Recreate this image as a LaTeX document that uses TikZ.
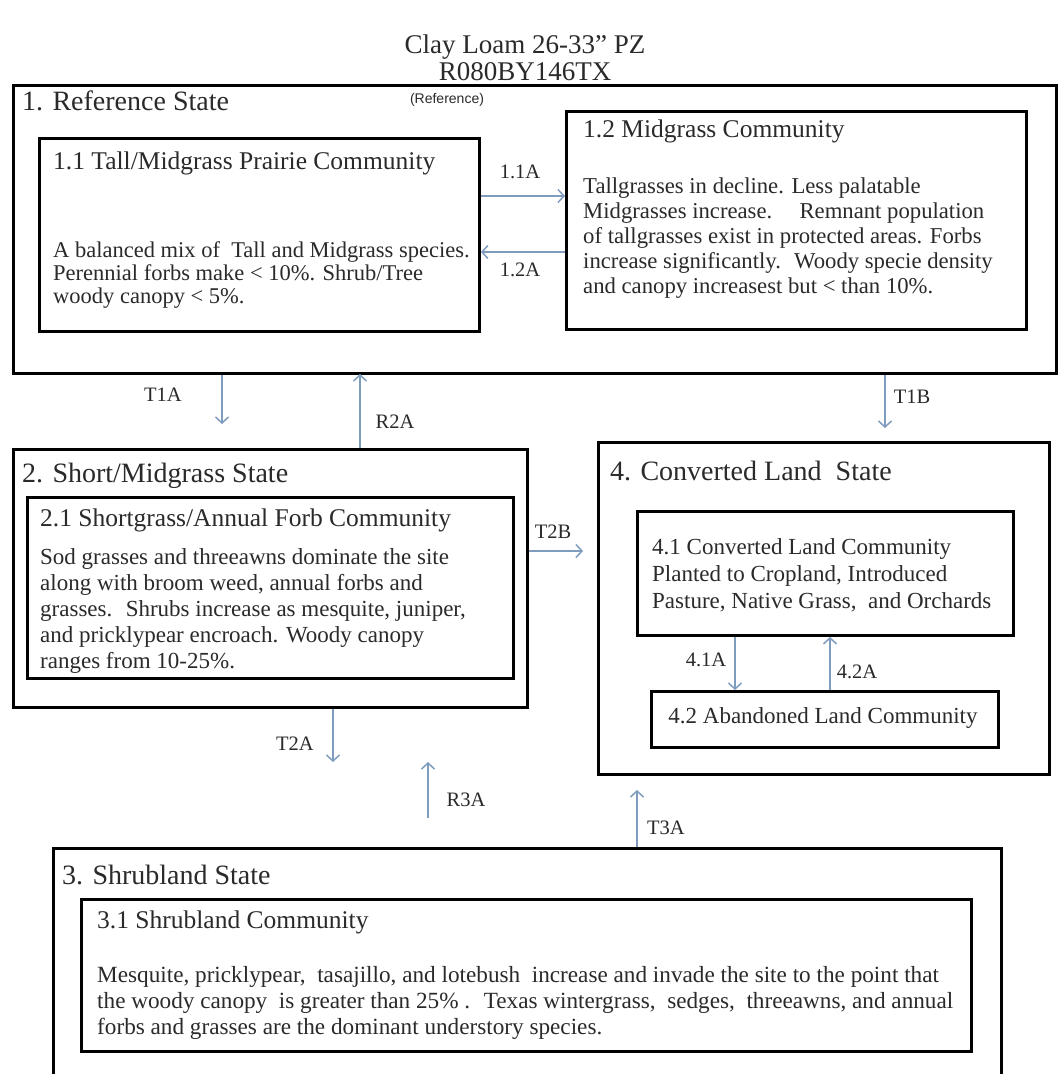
\documentclass[tikz,border=0pt]{standalone}
\usepackage{fontspec}
\setmainfont{Liberation Serif}
\newfontfamily\refsans{Liberation Sans}
\usetikzlibrary{arrows.meta}
\definecolor{arrowblue}{HTML}{7F9CBF}
\definecolor{inkgray}{HTML}{2A2A2A}
\begin{document}
\begin{tikzpicture}[x=1pt,y=-1pt,
  statebox/.style={draw=black, line width=3.4pt, inner sep=0pt, anchor=north west},
  commbox/.style={draw=black, line width=2.9pt, inner sep=0pt, anchor=north west},
  statetitle/.style={anchor=west, inner sep=0pt, text=inkgray, font=\fontsize{28}{30}\selectfont, text height=19pt, text depth=5pt},
  commtitle/.style={anchor=west, inner sep=0pt, text=inkgray, font=\fontsize{25.5}{28}\selectfont, text height=17pt, text depth=5pt},
  bodytext/.style={anchor=north west, inner sep=0pt, align=left, text=inkgray},
  arr/.style={draw=arrowblue, line width=1.5pt, -{Straight Barb[length=6pt,width=13pt]}},
  lbl/.style={inner sep=0pt, text=inkgray, font=\fontsize{20.5}{22}\selectfont},
]
\useasboundingbox (0,0) rectangle (1058,1074);
\clip (0,0) rectangle (1058,1074);
\fill[white] (0,0) rectangle (1058,1074);

% title
\node[anchor=north, inner sep=0pt, align=center, text=inkgray, font=\fontsize{27}{27}\selectfont] (title) at (525,35) {Clay Loam 26-33” PZ\\R080BY146TX};

% State 1
\node[statebox, minimum width=1043pt, minimum height=288pt] (s1) at (12,84) {};
\node[statetitle] (s1t) at (22,103) {1. Reference State};
\node[inner sep=0pt, font=\refsans\fontsize{14}{16}\selectfont, text=inkgray] (s1r) at (447,100) {(Reference)};
\node[commbox, minimum width=440pt, minimum height=193pt] (c11) at (38,137) {};
\node[commtitle] (c11t) at (53,163) {1.1 Tall/Midgrass Prairie Community};
\node[bodytext, font=\fontsize{22.5}{23}\selectfont] (c11b) at (53,241) {A balanced mix of \ Tall and Midgrass species.\\Perennial forbs make < 10\%. Shrub/Tree\\woody canopy < 5\%.};
\node[commbox, minimum width=460pt, minimum height=218pt] (c12) at (565,110) {};
\node[commtitle] (c12t) at (583,131) {1.2 Midgrass Community};
\node[bodytext, font=\fontsize{22.7}{25}\selectfont] (c12b) at (583,178) {Tallgrasses in decline. Less palatable\\Midgrasses increase.\hspace{1.2em}Remnant population\\of tallgrasses exist in protected areas. Forbs\\increase significantly. \ Woody specie density\\and canopy increasest but < than 10\%.};

\coordinate (y11) at (0,196);
\coordinate (y12) at (0,252);
\draw[arr] (c11.east |- y11) -- (c12.west |- y11);
\draw[arr] (c12.west |- y12) -- (c11.east |- y12);
\node[lbl] (l11) at (520,172) {1.1A};
\node[lbl] (l12) at (520,270) {1.2A};

% State 2
\node[statebox, minimum width=514pt, minimum height=258pt] (s2) at (12,448) {};
\node[statetitle] (s2t) at (22,475) {2. Short/Midgrass State};
\node[commbox, minimum width=486pt, minimum height=181pt] (c21) at (26,496) {};
\node[commtitle] (c21t) at (40,520) {2.1 Shortgrass/Annual Forb Community};
\node[bodytext, font=\fontsize{23}{26}\selectfont] (c21b) at (40,548) {Sod grasses and threeawns dominate the site\\along with broom weed, annual forbs and\\grasses. \ Shrubs increase as mesquite, juniper,\\and pricklypear encroach. Woody canopy\\ranges from 10-25\%.};

% State 4
\node[statebox, minimum width=451pt, minimum height=332pt] (s4) at (597,441) {};
\node[statetitle] (s4t) at (610,473) {4. Converted Land \ State};
\node[commbox, minimum width=376pt, minimum height=124pt] (c41) at (636,510) {};
\node[bodytext, font=\fontsize{23}{27}\selectfont] (c41b) at (652,538) {4.1 Converted Land Community\\Planted to Cropland, Introduced\\Pasture, Native Grass, \ and Orchards};
\node[commbox, minimum width=347pt, minimum height=56pt] (c42) at (650,690) {};
\node[inner sep=0pt, text=inkgray, font=\fontsize{23}{27}\selectfont] (c42t) at (823,718) {4.2 Abandoned Land Community};

\coordinate (a41) at (735,0);
\coordinate (a42) at (830,0);
\draw[arr] (c41.south -| a41) -- (c42.north -| a41);
\draw[arr] (c42.north -| a42) -- (c41.south -| a42);
\node[lbl] (l41) at (706,660) {4.1A};
\node[lbl] (l42) at (857,672) {4.2A};

% State 3
\node[statebox, minimum width=948pt, minimum height=260pt] (s3) at (52,847) {};
\node[statetitle] (s3t) at (62,877) {3. Shrubland State};
\node[commbox, minimum width=890pt, minimum height=152pt] (c31) at (80,898) {};
\node[commtitle] (c31t) at (97,922) {3.1 Shrubland Community};
\node[bodytext, font=\fontsize{23.2}{26}\selectfont] (c31b) at (97,966) {Mesquite, pricklypear, \ tasajillo, and lotebush \ increase and invade the site to the point that\\the woody canopy \ is greater than 25\% . \ Texas wintergrass, \ sedges, \ threeawns, and annual\\forbs and grasses are the dominant understory species.};

% transitions between states
\coordinate (t1a) at (222,424);
\coordinate (r2a) at (360,374);
\coordinate (t1b) at (885,428);
\coordinate (t2b) at (583,551);
\coordinate (t2a) at (333,762);
\coordinate (r3as) at (428,818);
\coordinate (r3ae) at (428,762);
\coordinate (t3a) at (637,790);
\draw[arr] (s1.south -| t1a) -- (t1a);
\draw[arr] (s2.north -| r2a) -- (r2a);
\draw[arr] (s1.south -| t1b) -- (t1b);
\draw[arr] (s2.east |- t2b) -- (t2b);
\draw[arr] (s2.south -| t2a) -- (t2a);
\draw[arr] (r3as) -- (r3ae);
\draw[arr] (s3.north -| t3a) -- (t3a);
\node[lbl] (lt1a) at (163,395) {T1A};
\node[lbl] (lr2a) at (395,422) {R2A};
\node[lbl] (lt1b) at (912,397) {T1B};
\node[lbl] (lt2b) at (553,532) {T2B};
\node[lbl] (lt2a) at (295,744) {T2A};
\node[lbl] (lr3a) at (466,800) {R3A};
\node[lbl] (lt3a) at (666,828) {T3A};
\end{tikzpicture}
\end{document}
